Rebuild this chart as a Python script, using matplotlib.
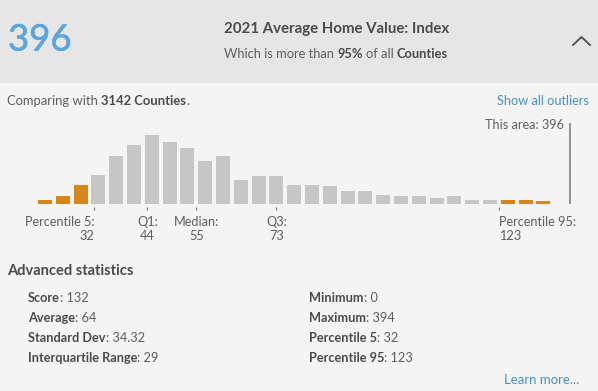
import numpy as np
import matplotlib.pyplot as plt
import matplotlib.patheffects as pe
from matplotlib.patches import Rectangle

# data
score_value = '396'
bin_start = 19
bin_width = 4
counts = [17, 38, 91, 139, 226, 283, 331, 293, 264, 206, 226, 115, 130, 130, 91,
          91, 82, 62, 58, 43, 38, 38, 24, 34, 19, 19, 19, 19, 14]
low_bins = 3     # orange bins under percentile 5
high_bins = 3    # orange bins above percentile 95
tick_vals = [32, 44, 55, 73, 123]
tick_names = ['Percentile 5:', 'Q1:', 'Median:', 'Q3:', 'Percentile 95:']
tick_aligns = ['right', 'center', 'center', 'center', 'left']
stats_left = [('Score', '132'), ('Average', '64'), ('Standard Dev', '34.32'),
              ('Interquartile Range', '29')]
stats_right = [('Minimum', '0'), ('Maximum', '394'), ('Percentile 5', '32'),
               ('Percentile 95', '123')]

W, H = 598, 391
BG = '#f4f4f4'
HEAD = '#e6e6e6'
TXT = '#5f5f5f'
DARK = '#4b4b4b'
BLUE = '#4a90c8'
ORANGE = '#d8861c'
GRAY = '#c6c6c6'
FS = 9.2
plt.rcParams['font.family'] = ['Lato', 'DejaVu Sans']

fig = plt.figure(figsize=(W / 100, H / 100), dpi=100, facecolor=BG)
renderer = fig.canvas.get_renderer()


def fx(x):
    return x / W


def fy(y):
    return 1 - y / H


def width_of(s, size, weight):
    t = fig.text(0, 0, s, fontsize=size, fontweight=weight)
    w = t.get_window_extent(renderer).width
    t.remove()
    return w


def seg_text(x, y, parts, size, ha='left'):
    # parts: list of (text, weight, color), drawn one after another
    sp = width_of('x x', size, 'normal') - width_of('xx', size, 'normal')
    widths = []
    for s, wt, c in parts:
        widths.append(width_of(s.strip(), size, wt) if s.strip() else 0)
    total = 0
    for (s, wt, c), w in zip(parts, widths):
        total += w + sp * (len(s) - len(s.lstrip())) + sp * (len(s) - len(s.rstrip()))
    if ha == 'center':
        x = x - total / 2
    elif ha == 'right':
        x = x - total
    for (s, wt, c), w in zip(parts, widths):
        x += sp * (len(s) - len(s.lstrip()))
        if s.strip():
            fig.text(fx(x), fy(y), s.strip(), fontsize=size, fontweight=wt,
                     color=c, va='center', ha='left')
        x += w + sp * (len(s) - len(s.rstrip()))


# header band
fig.patches.append(Rectangle((0, fy(82.5)), 1, 1 - fy(82.5), transform=fig.transFigure,
                             facecolor=HEAD, edgecolor='none', zorder=0))
fig.text(fx(8), fy(40), score_value, fontsize=26.3, color='#5aa5dd', va='center', ha='left',
         path_effects=[pe.withStroke(linewidth=0.4, foreground='#5aa5dd')])
fig.text(fx(337), fy(29), '2021 Average Home Value: Index', fontsize=10.8,
         fontweight='bold', color=DARK, va='center', ha='center')
seg_text(336, 54, [('Which is more than ', 'normal', TXT), ('95%', 'bold', DARK),
                   (' of all ', 'normal', TXT), ('Counties', 'bold', DARK)], 9.3, ha='center')
fig.add_artist(plt.Line2D([fx(573), fx(581.5), fx(590)], [fy(45), fy(37), fy(45)],
                          transform=fig.transFigure, color='#555555', lw=1.4))

seg_text(7, 101, [('Comparing with ', 'normal', TXT), ('3142 Counties', 'bold', DARK),
                  ('.', 'normal', TXT)], 9.4)
fig.text(fx(589), fy(101), 'Show all outliers', fontsize=FS, color=BLUE,
         va='center', ha='right')

# histogram axes, x in value units
px_per_unit = 4.45
x0, x1 = 15, 143
left_px = 94 + (x0 - 32) * px_per_unit
right_px = 94 + (x1 - 32) * px_per_unit
top_px, bot_px, base_px = 113, 210, 203.5
cnt_per_px = 331 / 69.0
ax = fig.add_axes([fx(left_px), fy(bot_px), (right_px - left_px) / W, (bot_px - top_px) / H])
ax.set_facecolor('none')
ax.set_xlim(x0, x1)
ax.set_ylim(-(bot_px - base_px) * cnt_per_px, (base_px - top_px) * cnt_per_px)

centers = bin_start + bin_width / 2 + bin_width * np.arange(len(counts))
colors = [ORANGE if (i < low_bins or i >= len(counts) - high_bins) else GRAY
          for i in range(len(counts))]
ax.bar(centers, counts, width=bin_width * 0.79, color=colors, linewidth=0)

# "this area" marker sits past the last bin
area_x = centers[-1] + 1.5 * bin_width
ax.plot([area_x, area_x], [0, (base_px - 123) * cnt_per_px], color='#8a8a8a', lw=1.3,
        solid_capstyle='butt')
ax.text(area_x - 1.5, (base_px - 125) * cnt_per_px, 'This area: ' + score_value,
        fontsize=9.1, color=TXT, ha='right', va='center')

for s in ax.spines.values():
    s.set_visible(False)
ax.set_yticks([])
ax.set_xticks(tick_vals)
ax.set_xticklabels([])
ax.tick_params(axis='x', direction='in', length=2.4, width=0.9, color='#7a7a7a')

for v, name, al in zip(tick_vals, tick_names, tick_aligns):
    xp = 94 + (v - 32) * px_per_unit
    fig.text(fx(xp + (0.5 if al == 'right' else 0)), fy(222), name, fontsize=FS,
             color=TXT, ha=al, va='center')
    fig.text(fx(xp + (0.5 if al == 'right' else 0)), fy(236), str(v), fontsize=FS,
             color=TXT, ha=al, va='center')

# advanced statistics
fig.text(fx(7), fy(271), 'Advanced statistics', fontsize=10.5, fontweight='bold',
         color=DARK, va='center')
for i, (k, v) in enumerate(stats_left):
    seg_text(28, 298 + i * 20, [(k, 'bold', DARK), (': ' + v, 'normal', TXT)], FS)
for i, (k, v) in enumerate(stats_right):
    seg_text(309, 298 + i * 20, [(k, 'bold', DARK), (': ' + v, 'normal', TXT)], FS)
fig.text(fx(579), fy(380), 'Learn more...', fontsize=9.5, color=BLUE, va='center', ha='right')

fig.savefig('out.png', dpi=100, facecolor=BG)
